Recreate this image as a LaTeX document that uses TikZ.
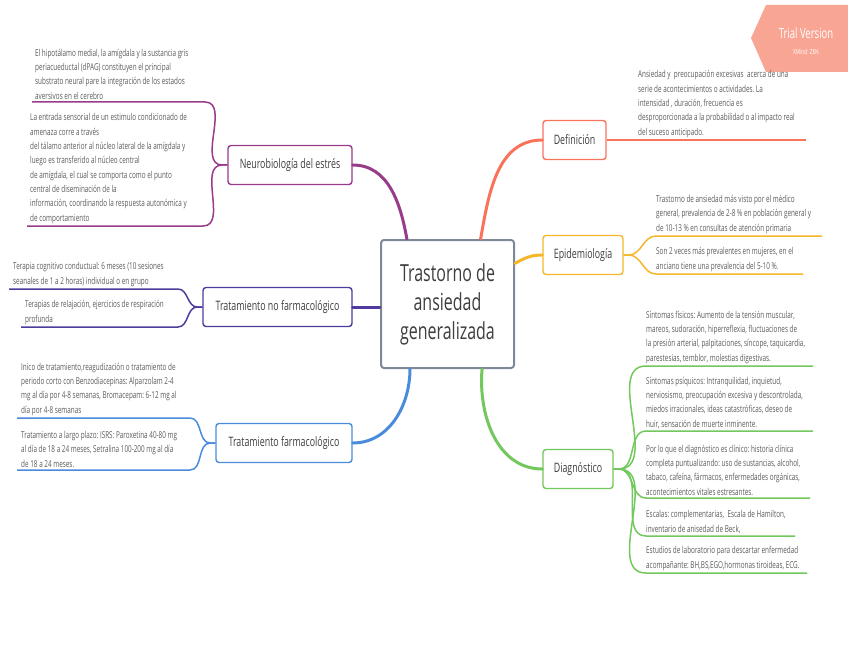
\documentclass[tikz,border=0pt]{standalone}
\usepackage{fontspec}
\setmainfont[FakeStretch=0.68]{Open Sans}
\newfontfamily\detailfont[FakeStretch=0.67]{Open Sans}
\usepackage{xcolor}
\usetikzlibrary{positioning,calc}

\definecolor{defred}{HTML}{F9735B}
\definecolor{epiyellow}{HTML}{F6B62C}
\definecolor{diagreen}{HTML}{72C85C}
\definecolor{tfblue}{HTML}{4A8CDB}
\definecolor{tnfindigo}{HTML}{4F3A9E}
\definecolor{neupurple}{HTML}{983B8A}
\definecolor{cengrey}{HTML}{7F8898}
\definecolor{topictext}{HTML}{3E3E3E}
\definecolor{detailtext}{HTML}{5A5A5A}
\definecolor{trialpink}{HTML}{F9A594}

\begin{document}
\frenchspacing
\begin{tikzpicture}[
    x=1pt, y=-1pt,
    topic/.style={draw, rounded corners=3pt, line width=1.4pt, fill=white,
        minimum height=39pt, inner xsep=6pt, text=topictext,
        font=\fontsize{13}{15}\selectfont},
    centre/.style={draw=cengrey, rounded corners=3pt, line width=2pt, fill=white,
        minimum width=133pt, minimum height=128pt, align=center, text=topictext,
        font=\fontsize{23.5}{29}\selectfont},
    detail/.style={inner xsep=0pt, inner ysep=2.5pt, align=left,
        text=detailtext, font=\detailfont\fontsize{9.5}{14.3}\selectfont},
    rdetail/.style={detail, anchor=south west},
    mainline/.style={line width=3pt, line cap=round},
    subline/.style={line width=1.5pt}
]
\useasboundingbox (0,0) rectangle (848,655);

% Trial badge
\fill[trialpink] (751,38) -- (766,5) -- (848,5) -- (848,72) -- (766,72) -- cycle;
\node[text=white, font=\fontsize{14}{16}\selectfont] (trial) at (806,33) {Trial Version};
\node[text=white, font=\fontsize{7}{8}\selectfont] (xmind) at (806,52) {XMind: ZEN};

% Central topic
\node[centre] (cen) at (447.5,304) {Trastorno de\\ansiedad\\generalizada};

% Main topics
\node[topic, draw=defred, minimum width=63pt] (def) at (574.5,140) {Definición};
\node[topic, draw=epiyellow, minimum width=80pt] (epi) at (583,255) {Epidemiología};
\node[topic, draw=diagreen, minimum width=70pt] (dia) at (578,469) {Diagnóstico};
\node[topic, draw=neupurple, minimum width=124pt] (neu) at (290,165) {Neurobiología del estrés};
\node[topic, draw=tnfindigo, minimum width=149pt] (tnf) at (277.5,307) {Tratamiento no farmacológico};
\node[topic, draw=tfblue, minimum width=136pt] (tf) at (284,443) {Tratamiento farmacológico};

% Main connectors
\draw[mainline, defred] (cen.63) to[out=80, in=180] (def.west);
\draw[mainline, epiyellow] (cen.31) to[out=30, in=180] (epi.west);
\draw[mainline, diagreen] (cen.-62) to[out=-95, in=180] (dia.west);
\draw[mainline, neupurple] (cen.122) to[out=100, in=0] (neu.east);
\draw[mainline, tnfindigo] (tnf.east) -- (tnf.east -| cen.west);
\draw[mainline, tfblue] (cen.-120) to[out=-90, in=0] (tf.east);

% Definicion
\node[rdetail] (def1) at (638,140) {Ansiedad y~ preocupación excesivas~ acerca de una\\serie de acontecimientos o actividades. La\\intensidad , duración, frecuencia es\\desproporcionada a la probabilidad o al impacto real\\del suceso anticipado.};
\coordinate (def1end) at (806,140);
\draw[subline, defred] (def.east) -- (def1.south west) -- (def1end);

% Epidemiologia
\node[rdetail] (epi1) at (656,236) {Trastorno de ansiedad más visto por el médico\\general, prevalencia de 2-8 \% en población general y\\de 10-13 \% en consultas de atención primaria};
\node[rdetail] (epi2) at (656,274) {Son 2 veces más prevalentes en mujeres, en el\\anciano tiene una prevalencia del 5-10 \%.};
\coordinate (epi1end) at (822,236);
\coordinate (epi2end) at (803,274);
\foreach \n in {epi1,epi2}
  \draw[subline, epiyellow] (epi.east) -- ++(5,0) to[out=0, in=180] (\n.south west) -- (\n end);

% Diagnostico
\node[rdetail] (dia1) at (646,366) {Síntomas físicos: Aumento de la tensión muscular,\\mareos, sudoración, hiperreflexia, fluctuaciones de\\la presión arterial, palpitaciones, síncope, taquicardia,\\parestesias, temblor, molestias digestivas.};
\node[rdetail] (dia2) at (646,431) {Síntomas psíquicos: Intranquilidad, inquietud,\\nerviosismo, preocupación excesiva y descontrolada,\\miedos irracionales, ideas catastróficas, deseo de\\huir, sensación de muerte inminente.};
\node[rdetail] (dia3) at (646,498) {Por lo que el diagnóstico es clínico: historia clínica\\completa puntualizando: uso de sustancias, alcohol,\\tabaco, cafeína, fármacos, enfermedades orgánicas,\\acontecimientos vitales estresantes.};
\node[rdetail] (dia4) at (646,536) {Escalas: complementarias,~ Escala de Hamilton,\\inventario de anisedad de Beck,};
\node[rdetail] (dia5) at (646,573) {Estudios de laboratorio para descartar enfermedad\\acompañante: BH,BS,EGO,hormonas tiroideas, ECG.};
\coordinate (dia1end) at (813,366);
\coordinate (dia2end) at (813,431);
\coordinate (dia3end) at (810,498);
\coordinate (dia4end) at (795,536);
\coordinate (dia5end) at (807,573);
\foreach \n in {dia1,dia2,dia3,dia4,dia5}
  \draw[subline, diagreen] (dia.east) -- ++(5,0) to[out=0, in=180] (\n.south west) -- (\n end);

% Neurobiologia del estres
\node[rdetail] (neu1) at (35,102) {El hipotálamo medial, la amígdala y la sustancia gris\\periacueductal (dPAG) constituyen el principal\\substrato neural pare la integración de los estados\\aversivos en el cerebro};
\node[rdetail] (neu2) at (30,226) {La entrada sensorial de un estimulo condicionado de\\amenaza corre a través\\del tálamo anterior al núcleo lateral de la amígdala y\\luego es transferido al núcleo central\\de amígdala, el cual se comporta como el punto\\central de diseminación de la\\información, coordinando la respuesta autonómica y\\de comportamiento};
\coordinate (neu1end) at (205,102);
\coordinate (neu2end) at (203,226);
\foreach \n in {neu1,neu2}
  \draw[subline, neupurple] (neu.west) -- ++(-5,0) to[out=180, in=0] (\n end) -- ($(\n.south west)+(-3,0)$);

% Tratamiento no farmacologico
\node[rdetail] (tnf1) at (13,289) {Terapia cognitivo conductual: 6 meses (10 sesiones\\seanales de 1 a 2 horas) individual o en grupo};
\node[rdetail] (tnf2) at (25,327) {Terapias de relajación, ejercicios de respiración\\profunda};
\coordinate (tnf1end) at (178,289);
\coordinate (tnf2end) at (178,327);
\foreach \n in {tnf1,tnf2}
  \draw[subline, tnfindigo] (tnf.west) -- ++(-5,0) to[out=180, in=0] (\n end) -- ($(\n.south west)+(-4,0)$);

% Tratamiento farmacologico
\node[rdetail] (tf1) at (21,418) {Inico de tratamiento,reagudización o tratamiento de\\periodo corto con Benzodiacepinas: Alparzolam 2-4\\mg al día por 4-8 semanas, Bromacepam: 6-12 mg al\\día por 4-8 semanas};
\node[rdetail] (tf2) at (21,470) {Tratamiento a largo plazo: ISRS: Paroxetina 40-80 mg\\al día de 18 a 24 meses, Setralina 100-200 mg al día\\de 18 a 24 meses.};
\coordinate (tf1end) at (190,418);
\coordinate (tf2end) at (190,470);
\foreach \n in {tf1,tf2}
  \draw[subline, tfblue] (tf.west) -- ++(-5,0) to[out=180, in=0] (\n end) -- ($(\n.south west)+(-4,0)$);

\end{tikzpicture}
\end{document}
